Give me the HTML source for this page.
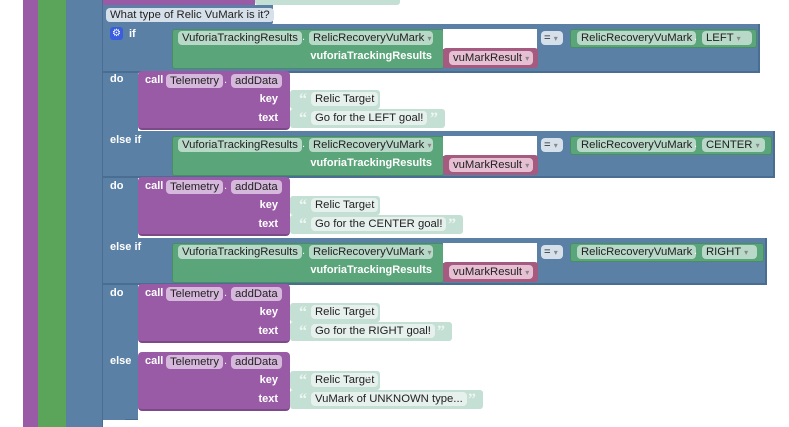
<!DOCTYPE html><html><head><meta charset="utf-8"><style>
body{margin:0;width:789px;height:427px;overflow:hidden;background:#fff;position:relative;font-family:"Liberation Sans",sans-serif;font-size:11px}
div{position:absolute;box-sizing:border-box}
.bl{background:#5b80a5}
.gr{background:#5ba57a;border:1px solid #4a8c66;border-radius:3px}
.pu{background:#995ba5;border-radius:4px}
.pk{background:#a55b80;border-radius:3px}
.lt{background:#c4dfd3;border-radius:3px}
.pill{height:14px;line-height:14px;padding:0 4px;border-radius:4px;color:#222;white-space:nowrap;font-size:11.3px}
.pg{background:#b8d8c8}
.pp{background:#d6b8dc}
.pkp{background:#e6bfd2}
.pl{background:#e6f0ec}
.w{color:#fff;font-weight:bold;white-space:nowrap}
.dot{color:#fff}
.q{color:#eef6f2;font-size:16px;font-weight:bold;line-height:16px;font-family:"Liberation Serif",serif}
</style></head><body>
<div style="left:23px;top:0;width:15px;height:427px;background:#995ba5"></div>
<div style="left:38px;top:0;width:28px;height:427px;background:#5ba55b"></div>
<div class="bl" style="left:66px;top:0;width:37px;height:427px;border-right:1px solid #4a6e92"></div>
<div class="pu" style="left:103px;top:-5px;width:152px;height:10px;border-radius:0"></div>
<div class="lt" style="left:255px;top:-5px;width:145px;height:10px"></div>
<div class="bl" style="left:103px;top:5px;width:170px;height:20px;border-radius:0 0 3px 0"></div>
<div class="pill pl" style="left:106px;top:8px;height:14px;background:#d6e0ea">What type of Relic VuMark is it?</div>
<div class="bl" style="left:103px;top:24px;width:35px;height:396px;border-radius:0 0 0 6px;border-bottom:1px solid #4a6e92"></div>
<div class="bl" style="left:103px;top:410px;width:22px;height:10px"></div>

<div class="bl" style="left:103px;top:24px;width:657px;height:49px;border-bottom:2px solid #4a6e92;border-right:2px solid #4a6e92"></div>
<div class="bl" style="left:103px;top:131px;width:672px;height:47px;border-bottom:2px solid #4a6e92;border-right:2px solid #4a6e92"></div>
<div class="bl" style="left:103px;top:238px;width:664px;height:47px;border-bottom:2px solid #4a6e92;border-right:2px solid #4a6e92"></div>

<div style="left:110px;top:27px;width:13px;height:13px;background:#3a5ee0;border-radius:3px;color:#fff;font-size:10px;line-height:13px;text-align:center">⚙</div>
<div class="w" style="left:129px;top:28px">if</div>
<div class="w" style="left:110px;top:73px">do</div>
<div class="w" style="left:110px;top:134px">else if</div>
<div class="w" style="left:110px;top:180px">do</div>
<div class="w" style="left:110px;top:241px">else if</div>
<div class="w" style="left:110px;top:287px">do</div>
<div class="w" style="left:110px;top:355px">else</div>

<div id="c"></div>
<script>
var rows=[[24,760,'LEFT',752],[131,775,'CENTER',765],[238,767,'RIGHT',757]];
var h='';
rows.forEach(function(r){var y=r[0];
h+='<div class="gr" style="left:172px;top:'+(y+5)+'px;width:272px;height:40px"></div>';
h+='<div class="pill pg" style="left:178px;top:'+(y+7)+'px">VuforiaTrackingResults</div>';
h+='<div class="dot" style="left:302px;top:'+(y+7)+'px">.</div>';
h+='<div class="pill pg" style="left:309px;top:'+(y+7)+'px;width:124px">RelicRecoveryVuMark <span style="color:#888;font-size:8px">▾</span></div>';
h+='<div class="w" style="left:300px;width:132px;text-align:right;top:'+(y+26)+'px">vuforiaTrackingResults</div>';
h+='<div style="left:443px;top:'+(y+5)+'px;width:94px;height:20px;background:#fff"></div>';
h+='<div class="pk" style="left:443px;top:'+(y+24)+'px;width:95px;height:20px"></div>';
h+='<div class="pill pkp" style="left:449px;top:'+(y+27)+'px;width:84px">vuMarkResult <span style="color:#888;font-size:8px">▾</span></div>';
h+='<div class="pill" style="left:541px;top:'+(y+7)+'px;width:22px;background:#d6e0ea;padding:0 3px">= <span style="color:#888;font-size:8px">▾</span></div>';
h+='<div class="gr" style="left:570px;top:'+(y+5)+'px;width:'+(r[1]-573)+'px;height:19px"></div>';
h+='<div class="pill pg" style="left:577px;top:'+(y+7)+'px">RelicRecoveryVuMark</div>';
h+='<div class="dot" style="left:694px;top:'+(y+7)+'px">.</div>';
h+='<div class="pill pg" style="left:702px;top:'+(y+7)+'px;width:'+(r[3]-702)+'px">'+r[2]+' <span style="color:#888;font-size:8px">▾</span></div>';
});
var dos=[[71,'Go for the LEFT goal!',445],[177,'Go for the CENTER goal!',463],[284,'Go for the RIGHT goal!',452],[352,'VuMark of UNKNOWN type...',483]];
dos.forEach(function(d){var y=d[0];
h+='<div class="pu" style="left:138px;top:'+y+'px;width:152px;height:59px;border-bottom:2px solid #7d4a88"></div>';
h+='<div class="w" style="left:145px;top:'+(y+3)+'px">call</div>';
h+='<div class="pill pp" style="left:166px;top:'+(y+3)+'px">Telemetry</div>';
h+='<div class="dot" style="left:224px;top:'+(y+3)+'px">.</div>';
h+='<div class="pill pp" style="left:231px;top:'+(y+3)+'px">addData</div>';
h+='<div class="w" style="left:240px;width:38px;text-align:right;top:'+(y+22)+'px">key</div>';
h+='<div class="w" style="left:240px;width:38px;text-align:right;top:'+(y+41)+'px">text</div>';
h+='<div class="lt" style="left:290px;top:'+(y+19)+'px;width:90px;height:19px"></div>';
h+='<div class="q" style="left:299px;top:'+(y+21)+'px">“</div><div class="pill pl" style="left:311px;top:'+(y+21)+'px">Relic Target</div><div class="q" style="left:365px;top:'+(y+21)+'px">”</div>';
h+='<div class="lt" style="left:290px;top:'+(y+38)+'px;width:'+(d[2]-290)+'px;height:19px"></div>';
h+='<div class="q" style="left:299px;top:'+(y+40)+'px">“</div><div class="pill pl" style="left:311px;top:'+(y+40)+'px">'+d[1]+'</div><div class="q" style="left:'+(d[2]-15)+'px;top:'+(y+40)+'px">”</div>';
});
document.getElementById('c').outerHTML=h;
</script>
</body></html>
